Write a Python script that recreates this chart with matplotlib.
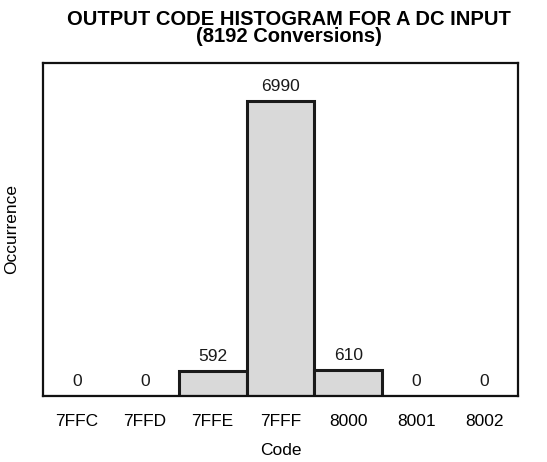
import matplotlib.pyplot as plt

codes = ["7FFC", "7FFD", "7FFE", "7FFF", "8000", "8001", "8002"]
counts = [0, 0, 592, 6990, 610, 0, 0]


def main():
    plt.rcParams['font.family'] = ['Liberation Sans', 'DejaVu Sans']
    fig = plt.figure(figsize=(5.47, 4.62), dpi=100)
    ax = fig.add_axes([43 / 547, 1 - 396 / 462, 475 / 547, 333 / 462])

    x = list(range(len(codes)))
    ax.bar(x, counts, width=1.0, color='#d9d9d9', edgecolor='#1a1a1a', linewidth=2.2)
    for xi, c in zip(x, counts):
        ax.annotate(str(c), (xi, c), xytext=(0, 5), textcoords='offset points',
                    ha='center', va='bottom', fontsize=12.5, color='#1a1a1a')

    ax.set_xlim(-0.5, 6.5)
    ax.set_ylim(0, 7890)
    ax.set_xticks(x)
    ax.set_xticklabels(codes, fontsize=12.5)
    ax.set_yticks([])
    ax.tick_params(axis='x', length=0, pad=13)
    for s in ax.spines.values():
        s.set_linewidth(1.6)
        s.set_color('#111111')
    ax.set_xlabel("Code", fontsize=12.5, labelpad=10)
    ax.set_ylabel("Occurrence", fontsize=12.5, labelpad=17)

    fig.text(289 / 547, 1 - 28 / 462, "OUTPUT CODE HISTOGRAM FOR A DC INPUT\n(8192 Conversions)",
             ha='center', va='center', fontsize=14.5, fontweight='bold', linespacing=0.92,
             color='black')

    fig.savefig("out.png", dpi=100)


if __name__ == "__main__":
    main()
